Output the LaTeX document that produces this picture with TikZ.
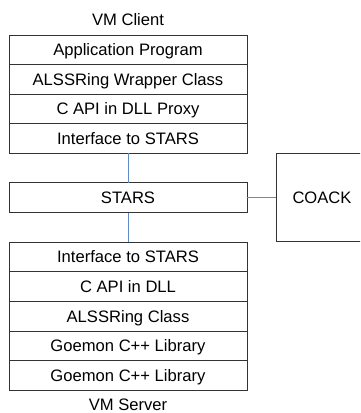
\documentclass[tikz,border=0pt]{standalone}
\usepackage{fontspec}
\setmainfont{Liberation Sans}
\usetikzlibrary{positioning}
\definecolor{linkblue}{RGB}{95,140,200}

\begin{document}
\begin{tikzpicture}[x=1pt, y=-1pt, node distance=0pt,
    layer/.style={draw=black!80, line width=1pt, fill=white, outer sep=0pt, inner sep=0pt,
        minimum width=238pt, minimum height=29.6pt, text height=11.9pt, text depth=0pt,
        font=\fontsize{16.6}{20}\selectfont},
    caption/.style={font=\fontsize{16.6}{20}\selectfont, text height=11.9pt, text depth=0pt, inner sep=0pt},
    link/.style={draw=linkblue, line width=1pt}]
    \useasboundingbox (0,0) rectangle (360,413);
    \clip (0,0) rectangle (360,413);

    % Client stack
    \node[caption] (client) at (128,20) {VM Client};
    \node[layer] (app) at (128,49.8) {Application Program};
    \node[layer, below=of app] (wrapper) {ALSSRing Wrapper Class};
    \node[layer, below=of wrapper] (proxy) {C API in DLL Proxy};
    \node[layer, below=of proxy] (cif) {Interface to STARS};

    % Middle
    \node[layer, minimum height=30pt] (stars) at (128,197.5) {STARS};
    \node[layer, minimum width=94pt, minimum height=88pt, text width=89pt, align=left, inner sep=0pt]
        (coack) at (323,197.5) {\hspace*{14pt}COACK};

    % Server stack
    \node[layer] (sif) at (128,257) {Interface to STARS};
    \node[layer, below=of sif] (dll) {C API in DLL};
    \node[layer, below=of dll] (ring) {ALSSRing Class};
    \node[layer, below=of ring] (lib1) {Goemon C++ Library};
    \node[layer, below=of lib1] (lib2) {Goemon C++ Library};
    \node[caption] (server) at (128,404.5) {VM Server};

    % Links
    \draw[link] (cif) -- (stars);
    \draw[link] (stars) -- (sif);
    \draw[link] (stars) -- (coack);
\end{tikzpicture}
\end{document}
